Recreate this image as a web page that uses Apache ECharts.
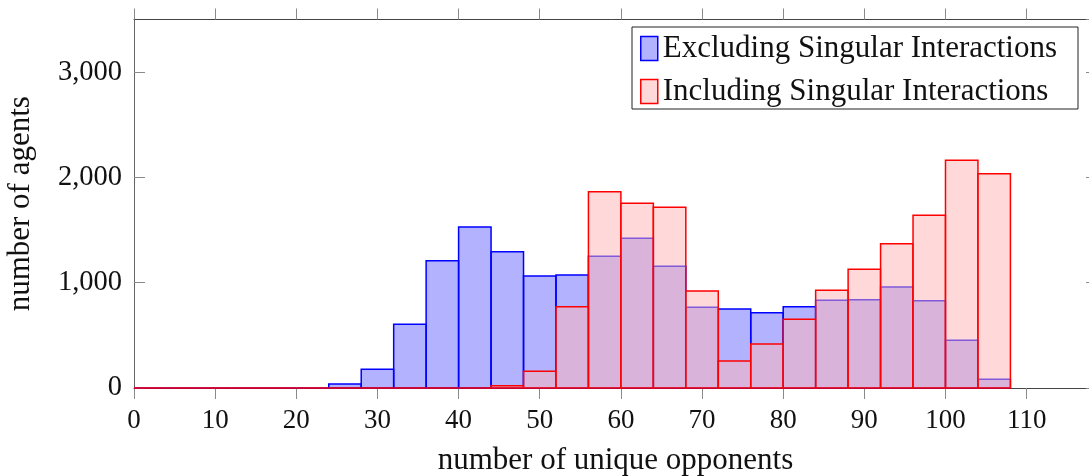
<!DOCTYPE html>
<html>
<head>
<meta charset="utf-8">
<title>unique opponents histogram</title>
<script src="https://cdn.jsdelivr.net/npm/echarts@6/dist/echarts.min.js"></script>
<style>
  html, body { margin: 0; padding: 0; background: #fff; }
  #chart { width: 1089px; height: 476px; }
</style>
</head>
<body>
<div id="chart"></div>
<script>
// histogram bins, width 4
var binWidth = 4
var binStarts = [0, 4, 8, 12, 16, 20, 24, 28, 32, 36, 40, 44, 48, 52, 56, 60, 64, 68, 72, 76, 80, 84, 88, 92, 96, 100, 104]
var excluding = [0, 0, 0, 0, 0, 0, 38, 178, 605, 1209, 1529, 1294, 1064, 1073, 1251, 1422, 1156, 766, 750, 715, 772, 833, 839, 959, 829, 453, 83]
var including = [0, 0, 0, 0, 0, 0, 0, 0, 0, 0, 0, 22, 159, 772, 1864, 1754, 1716, 921, 256, 418, 652, 928, 1127, 1370, 1640, 2162, 2035]
var xTicks = [0, 10, 20, 30, 40, 50, 60, 70, 80, 90, 100, 110]
var yTicks = [0, 1000, 2000, 3000]

var FONT = 'Liberation Serif'
var NAME_EX = 'Excluding Singular Interactions'
var NAME_IN = 'Including Singular Interactions'

function pairs(vals) {
  return binStarts.map(function(s, i) { return [s, vals[i]] })
}

function makeRender(fill, stroke) {
  return function(params, api) {
    var x0 = api.value(0)
    var v = api.value(1)
    var a = api.coord([x0, v])
    var b = api.coord([x0 + binWidth, 0])
    return {
      type: 'rect',
      shape: { x: a[0], y: a[1], width: b[0] - a[0], height: b[1] - a[1] },
      style: { fill: fill, stroke: stroke, lineWidth: 1.5 }
    }
  }
}

var chart = echarts.init(document.getElementById('chart'))

var tickStyle = { color: '#8a8a8a', width: 1 }
var lineStyle = { color: '#444', width: 1 }

chart.setOption({
  animation: false,
  grid: { left: 134, top: 19.5, width: 963, height: 368.5, outerBoundsMode: 'none', containLabel: false },
  graphic: [{
    type: 'rect',
    z: 1,
    shape: { x: 632, y: 27, width: 446, height: 82 },
    style: { fill: '#fff', stroke: '#222', lineWidth: 1 }
  }],
  legend: {
    z: 5,
    orient: 'vertical',
    left: 640,
    top: 33,
    padding: 0,
    itemWidth: 17,
    itemHeight: 24,
    itemGap: 12,
    textStyle: { fontFamily: FONT, fontSize: 31, color: '#111', lineHeight: 24 },
    data: [
      { name: NAME_EX, icon: 'rect', itemStyle: { color: 'rgba(0,0,255,0.3)', borderColor: '#0000ff', borderWidth: 1.5 } },
      { name: NAME_IN, icon: 'rect', itemStyle: { color: 'rgba(255,179,179,0.5)', borderColor: '#ff0000', borderWidth: 1.5 } }
    ]
  },
  xAxis: [{
    type: 'value',
    position: 'bottom',
    min: 0,
    max: 118.67,
    interval: 10,
    name: 'number of unique opponents',
    nameLocation: 'middle',
    nameGap: 57,
    nameTextStyle: { fontFamily: FONT, fontSize: 31, color: '#111' },
    axisLine: { show: true, onZero: false, lineStyle: lineStyle },
    axisTick: { show: true, inside: false, length: 11, lineStyle: tickStyle },
    axisLabel: {
      fontFamily: FONT, fontSize: 27, color: '#111', margin: 19,
      showMaxLabel: false,
      formatter: function(v) { return xTicks.indexOf(v) >= 0 ? String(v) : '' }
    },
    splitLine: { show: false }
  }, {
    type: 'value',
    position: 'top',
    min: 0,
    max: 118.67,
    interval: 10,
    axisLine: { show: true, onZero: false, lineStyle: lineStyle },
    axisTick: { show: true, inside: false, length: 11, lineStyle: tickStyle },
    axisLabel: { show: false },
    splitLine: { show: false }
  }],
  yAxis: [{
    type: 'value',
    position: 'left',
    min: 0,
    max: 3500,
    interval: 1000,
    name: 'number of agents',
    nameLocation: 'middle',
    nameGap: 98,
    nameTextStyle: { fontFamily: FONT, fontSize: 31, color: '#111' },
    axisLine: { show: true, onZero: false, lineStyle: { color: '#666', width: 1 } },
    axisTick: { show: true, inside: true, length: 11, lineStyle: tickStyle },
    axisLabel: {
      fontFamily: FONT, fontSize: 28.5, color: '#111', margin: 12,
      showMaxLabel: false,
      formatter: function(v) {
        if (yTicks.indexOf(v) < 0) return ''
        return v.toLocaleString('en-US')
      }
    },
    splitLine: { show: false }
  }, {
    type: 'value',
    position: 'right',
    min: 0,
    max: 3500,
    interval: 1000,
    axisLine: { show: true, onZero: false, lineStyle: lineStyle },
    axisTick: { show: true, inside: true, length: 11, lineStyle: tickStyle },
    axisLabel: { show: false },
    splitLine: { show: false }
  }],
  series: [{
    name: NAME_EX,
    type: 'custom',
    xAxisIndex: 0,
    yAxisIndex: 0,
    renderItem: makeRender('rgba(0,0,255,0.3)', '#0000ff'),
    itemStyle: { color: 'rgba(0,0,255,0.3)', borderColor: '#0000ff' },
    encode: { x: 0, y: 1 },
    data: pairs(excluding)
  }, {
    name: NAME_IN,
    type: 'custom',
    xAxisIndex: 0,
    yAxisIndex: 0,
    renderItem: makeRender('rgba(255,179,179,0.5)', '#ff0000'),
    itemStyle: { color: 'rgba(255,179,179,0.5)', borderColor: '#ff0000' },
    encode: { x: 0, y: 1 },
    data: pairs(including)
  }]
})
</script>
</body>
</html>
